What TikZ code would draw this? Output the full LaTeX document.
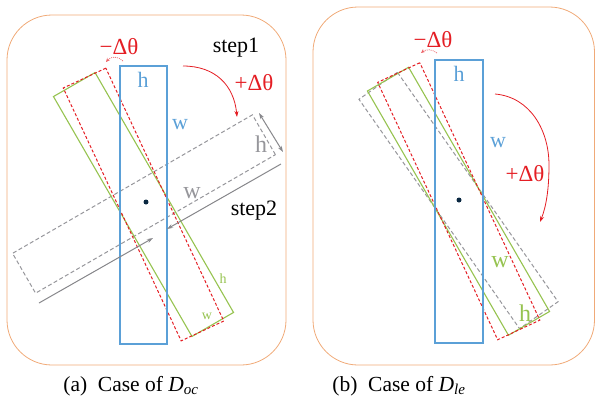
\documentclass[tikz,border=0pt]{standalone}
\usepackage{fontspec}
\setmainfont{Liberation Serif}
\usetikzlibrary{arrows.meta}
\definecolor{frameor}{RGB}{240,170,120}
\definecolor{boxblue}{RGB}{91,160,215}
\definecolor{redc}{RGB}{228,30,36}
\definecolor{greenc}{RGB}{150,195,80}
\definecolor{grayc}{RGB}{150,150,155}
\definecolor{dotc}{RGB}{10,40,65}
\tikzset{
  panel/.style={draw=frameor, line width=0.8pt, rounded corners=45pt},
  rbox/.style={draw, inner sep=0pt, minimum width=47pt, minimum height=278pt},
  bluebox/.style={rbox, draw=boxblue, line width=1.3pt},
  redbox/.style={rbox, draw=redc, line width=1pt, dash pattern=on 3pt off 2pt},
  greenbox/.style={rbox, draw=greenc, line width=1.1pt},
  graybox/.style={rbox, draw=grayc, line width=1pt, dash pattern=on 4pt off 2.5pt},
  lab/.style={inner sep=0pt, font=\fontsize{22}{26}\selectfont},
  dlab/.style={inner sep=0pt, font=\fontsize{23}{27}\selectfont},
  smalllab/.style={inner sep=0pt, font=\fontsize{14}{16}\selectfont},
  rotarrow/.style={draw=redc, line width=0.8pt, -{Stealth[length=6pt,width=4pt]}},
  smallarrow/.style={draw=redc!70, line width=0.7pt, dash pattern=on 1pt off 1pt, -{Stealth[length=4pt,width=3.5pt]}},
  grayarrow/.style={draw=grayc!90!black, line width=1pt, -{Stealth[length=6pt,width=4pt]}},
  graydbl/.style={draw=grayc!90!black, line width=1pt, {Stealth[length=6pt,width=4pt]}-{Stealth[length=6pt,width=4pt]}},
  cdot/.style={circle, fill=dotc, inner sep=0pt, minimum size=5pt},
  caption/.style={inner sep=0pt, font=\fontsize{21.5}{25}\selectfont}
}
\begin{document}
\begin{tikzpicture}[x=1pt,y=-1pt]
\useasboundingbox (0,0) rectangle (595,405);
% frames
\draw[panel] (7,15) rectangle (286,365);
\draw[panel] (313,7) rectangle (594.5,365);

% ---------- left panel ----------
\node[graybox, rotate=-60, minimum width=46pt, minimum height=277pt] (lgray) at (144,204) {};
\node[greenbox, rotate=30, minimum width=48pt, minimum height=277pt] (lgreen) at (143.5,204.5) {};
\node[redbox, rotate=25, minimum width=47pt, minimum height=279pt] (lred) at (143.5,204.5) {};
\node[bluebox] (lblue) at (143.5,205) {};
\node[cdot] (ldot) at (146,202) {};

\node[lab, text=boxblue] (lbh) at (143,80) {h};
\node[lab, text=boxblue] (lbw) at (180,125) {w};
\node[dlab, text=redc] (lmd) at (119,47) {−Δθ};
\node[lab] (lstep1) at (236,48) {step1};
\node[dlab, text=redc] (lpd) at (254,83) {+Δθ};
\node[lab, text=grayc, font=\fontsize{24}{28}\selectfont] (lgh) at (261,144) {h};
\node[lab, text=grayc, font=\fontsize{24}{28}\selectfont] (lgw) at (192,193) {w};
\node[lab] (lstep2) at (254,211) {step2};
\node[smalllab, text=greenc] (lgrh) at (223,279) {h};
\node[smalllab, text=greenc] (lgrw) at (207,316) {w};

\coordinate (la1) at (123,61);
\coordinate (la2) at (106,62);
\draw[smallarrow] (la1) .. controls (118,56) and (111,56) .. (la2);
\coordinate (lb1) at (183,66);
\coordinate (lb2) at (237,117);
\draw[rotarrow] (lb1) .. controls (215,66) and (234,85) .. (lb2);
\coordinate (lh1) at (259,113);
\coordinate (lh2) at (283,152);
\draw[graydbl] (lh1) -- (lh2);
\coordinate (lw1) at (281,164);
\coordinate (lw2) at (167,229);
\draw[grayarrow] (lw1) -- (lw2);
\coordinate (lw3) at (39,303);
\coordinate (lw4) at (153,238);
\draw[grayarrow] (lw3) -- (lw4);

% ---------- right panel ----------
\node[graybox, rotate=35, minimum width=47pt, minimum height=280pt] (rgray) at (458.5,200.5) {};
\node[greenbox, rotate=30, minimum width=47.5pt, minimum height=282pt] (rgreen) at (458.5,201.25) {};
\node[redbox, rotate=25, minimum width=46.5pt, minimum height=284pt] (rred) at (458.75,201.25) {};
\node[bluebox, minimum width=48pt, minimum height=283pt] (rblue) at (459,201.5) {};
\node[cdot] (rdot) at (459,200) {};

\node[lab, text=boxblue] (rbh) at (459,74) {h};
\node[lab, text=boxblue] (rbw) at (498,143) {w};
\node[dlab, text=redc] (rmd) at (433,40) {−Δθ};
\node[dlab, text=redc] (rpd) at (525,174) {+Δθ};
\node[lab, text=greenc, font=\fontsize{24}{28}\selectfont] (rgw) at (500,262) {w};
\node[lab, text=greenc, font=\fontsize{24}{28}\selectfont] (rgh) at (525,313) {h};

\coordinate (ra1) at (437,53);
\coordinate (ra2) at (421,53);
\draw[smallarrow] (ra1) .. controls (432,49) and (426,49) .. (ra2);
\coordinate (rb1) at (495,94);
\coordinate (rbm) at (549,165);
\coordinate (rb2) at (540,222);
\draw[rotarrow] (rb1) .. controls (530,97) and (549,130) .. (rbm) .. controls (549,190) and (546,207) .. (rb2);

% captions
\node[caption] (capa) at (131,386) {(a)\ \ Case of \textit{D}\textsubscript{\textit{oc}}};
\node[caption] (capb) at (399,386) {(b)\ \ Case of \textit{D}\textsubscript{\textit{le}}};
\end{tikzpicture}
\end{document}
